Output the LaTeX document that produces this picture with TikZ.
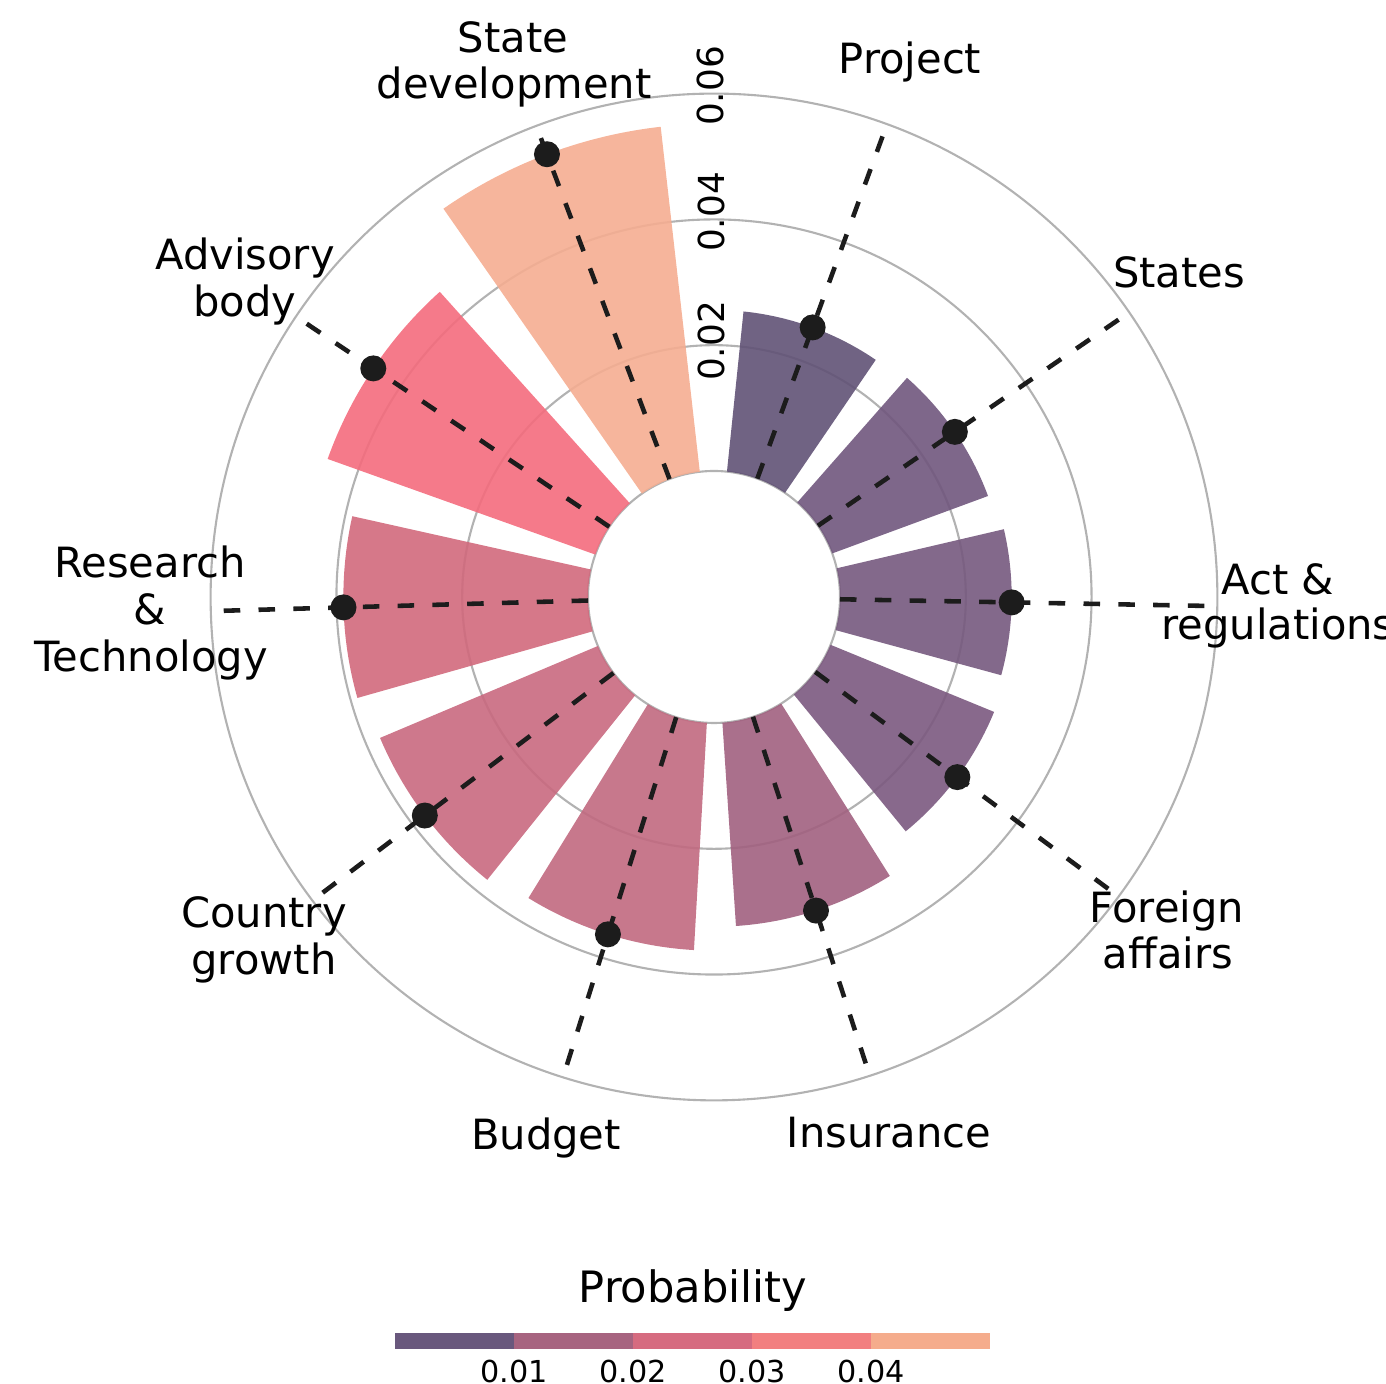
\documentclass[tikz,border=0pt]{standalone}
\usepackage{fontspec}
\setmainfont{DejaVu Sans}

\definecolor{gridgray}{RGB}{178,178,178}
\definecolor{spokecol}{RGB}{28,28,28}
\definecolor{barProject}{RGB}{97,82,118}
\definecolor{barStates}{RGB}{112,86,125}
\definecolor{barAct}{RGB}{118,89,126}
\definecolor{barForeign}{RGB}{123,89,127}
\definecolor{barInsurance}{RGB}{161,96,127}
\definecolor{barBudget}{RGB}{193,105,128}
\definecolor{barCountry}{RGB}{201,105,127}
\definecolor{barResearch}{RGB}{209,105,124}
\definecolor{barAdvisory}{RGB}{244,108,125}
\definecolor{barStatedev}{RGB}{245,173,145}
\definecolor{cbOne}{RGB}{105,88,125}
\definecolor{cbTwo}{RGB}{167,100,128}
\definecolor{cbThree}{RGB}{214,107,128}
\definecolor{cbFour}{RGB}{242,127,128}
\definecolor{cbFive}{RGB}{245,172,140}

\tikzset{
  gridline/.style={gridgray,line width=0.6pt},
  spoke/.style={spokecol,line width=1.3pt,dash pattern=on 4.7pt off 5.2pt},
  catlabel/.style={anchor=base,inner sep=0pt,font=\fontsize{11.85}{14}\selectfont},
  rticklabel/.style={rotate=90,inner sep=0pt,font=\fontsize{10.2}{12}\selectfont},
  cbticklabel/.style={anchor=base,inner sep=0pt,font=\fontsize{8.6}{10}\selectfont},
}

\begin{document}
\begin{tikzpicture}
  \useasboundingbox (-7.14,-7.87) rectangle (6.72,5.97);

  % radial grid: 0.00 .. 0.06
  \foreach \v in {0,0.02,0.04,0.06}
    \draw[gridline] (0,0) circle[radius={1.26+62.9*\v}];

  % bars, spokes and markers (angle/value/colour)
  \foreach \a/\v/\c in {69.9/0.0256/barProject, 34.43/0.0264/barStates,
      -1.04/0.0273/barAct, -36.51/0.0281/barForeign, -71.98/0.0324/barInsurance,
      -107.45/0.0362/barBudget, -142.92/0.0376/barCountry,
      -178.39/0.0389/barResearch, 146.14/0.0452/barAdvisory,
      110.67/0.0552/barStatedev}
  {
    \pgfmathsetmacro{\rr}{1.26+62.9*\v}
    \fill[\c,fill opacity=0.9] (\a-14.2:1.26) -- (\a-14.2:\rr)
      arc[start angle=\a-14.2,end angle=\a+14.2,radius=\rr]
      -- (\a+14.2:1.26)
      arc[start angle=\a+14.2,end angle=\a-14.2,radius=1.26] -- cycle;
    \draw[spoke] (\a:1.26) -- (\a:5.03);
    \fill[spokecol] (\a:\rr) circle[radius=0.13];
  }

  % radial tick labels
  \node[rticklabel] (tick-02) at (-0.03,2.56) {0.02};
  \node[rticklabel] (tick-04) at (-0.03,3.85) {0.04};
  \node[rticklabel] (tick-06) at (-0.04,5.11) {0.06};

  % category labels
  \node[catlabel] (lab-state) at (-2.01,5.44) {State};
  \node[catlabel] (lab-statedev) at (-2.00,4.98) {development};
  \node[catlabel] (lab-project) at (1.96,5.23) {Project};
  \node[catlabel] (lab-states) at (4.65,3.09) {States};
  \node[catlabel] (lab-act) at (5.64,0.02) {Act \&};
  \node[catlabel] (lab-regs) at (5.64,-0.43) {regulations};
  \node[catlabel] (lab-foreign) at (4.53,-3.26) {Foreign};
  \node[catlabel] (lab-affairs) at (4.54,-3.72) {affairs};
  \node[catlabel] (lab-insurance) at (1.75,-5.51) {Insurance};
  \node[catlabel] (lab-budget) at (-1.68,-5.53) {Budget};
  \node[catlabel] (lab-country) at (-4.50,-3.31) {Country};
  \node[catlabel] (lab-growth) at (-4.50,-3.78) {growth};
  \node[catlabel] (lab-research) at (-5.64,0.19) {Research};
  \node[catlabel] (lab-and) at (-5.64,-0.28) {\&};
  \node[catlabel] (lab-tech) at (-5.63,-0.75) {Technology};
  \node[catlabel] (lab-advisory) at (-4.69,3.27) {Advisory};
  \node[catlabel] (lab-body) at (-4.69,2.80) {body};

  % colour bar
  \foreach \i/\c in {0/cbOne,1/cbTwo,2/cbThree,3/cbFour,4/cbFive}
    \fill[\c] ({-3.19+1.19*\i},-7.52) rectangle ++(1.19,0.16);
  \foreach \i in {1,...,4}
    \node[cbticklabel] (cbtick-\i) at ({-3.19+1.19*\i},-7.86) {0.0\i};
  \node[catlabel,font=\fontsize{12.3}{14}\selectfont] (cbtitle) at (-0.21,-7.06) {Probability};
\end{tikzpicture}
\end{document}
